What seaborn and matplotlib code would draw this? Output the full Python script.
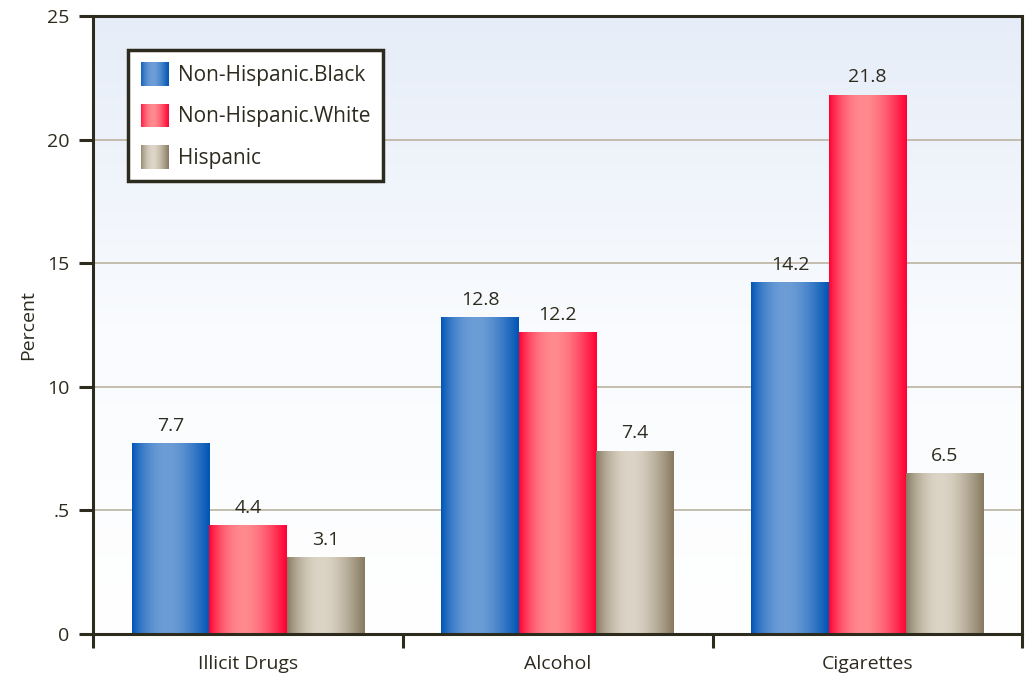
import numpy as np
import pandas as pd
import matplotlib
matplotlib.use("Agg")
import matplotlib.pyplot as plt
import seaborn as sns
from matplotlib.colors import LinearSegmentedColormap
from matplotlib.legend_handler import HandlerBase
from matplotlib.patches import Patch, Rectangle

# data
categories = ["Illicit Drugs", "Alcohol", "Cigarettes"]
groups = ["Non-Hispanic.Black", "Non-Hispanic.White", "Hispanic"]
black = [7.7, 12.8, 14.2]
white = [4.4, 12.2, 21.8]
hispanic = [3.1, 7.4, 6.5]
yticks = [0, 5, 10, 15, 20, 25]
ytick_labels = ["0", ".5", "10", "15", "20", "25"]

df = pd.DataFrame({
    "category": categories * 3,
    "group": [g for g in groups for _ in categories],
    "value": black + white + hispanic,
})

# edge / highlight colours for the cylinder-like shading
shades = {
    "Non-Hispanic.Black": ("#0055b5", "#6d9dd6"),
    "Non-Hispanic.White": ("#ff0033", "#ff8a8e"),
    "Hispanic": ("#877a60", "#dcd4c6"),
}


def grad_cmap(edge, light):
    t = np.linspace(0, 1, 64)
    p = np.sin(np.pi * t ** 0.85)
    e = np.array(matplotlib.colors.to_rgb(edge))
    l = np.array(matplotlib.colors.to_rgb(light))
    cols = [tuple(e + (l - e) * v) for v in p]
    return LinearSegmentedColormap.from_list("g", cols)


cmaps = {g: grad_cmap(*shades[g]) for g in groups}


class GradHandler(HandlerBase):
    def __init__(self, cmap):
        super().__init__()
        self.cmap = cmap

    def create_artists(self, legend, orig_handle, xdescent, ydescent,
                       width, height, fontsize, trans):
        n = 30
        out = []
        for i in range(n):
            r = Rectangle((-xdescent + i * width / n, -ydescent), width / n * 1.1, height,
                          facecolor=self.cmap((i + 0.5) / n), edgecolor="none",
                          transform=trans)
            out.append(r)
        return out


plt.rcParams["font.family"] = ["Open Sans", "DejaVu Sans"]
dark = "#2d2a1e"
fs = 14

fig = plt.figure(figsize=(10.3, 6.78), dpi=100)
ax = fig.add_axes([0.0903, 0.0649, 0.9022, 0.9115])

sns.barplot(data=df, x="category", y="value", hue="group", order=categories,
            hue_order=groups, width=0.75, ax=ax, zorder=2,
            palette=[shades[g][0] for g in groups], saturation=1)
ax.get_legend().remove()

# background gradient
bg = LinearSegmentedColormap.from_list("bg", ["#ffffff", "#f9fbfe", "#e6edf8"])
ax.imshow(np.linspace(0, 1, 256).reshape(-1, 1), extent=[-0.5, 2.5, 0, 25],
          origin="lower", aspect="auto", cmap=bg, zorder=0)

# gradient fills on bars + value labels
for g, cont in zip(groups, ax.containers):
    for bar in cont:
        x, w, h = bar.get_x(), bar.get_width(), bar.get_height()
        ax.imshow(np.linspace(0, 1, 128).reshape(1, -1), extent=[x, x + w, 0, h],
                  aspect="auto", cmap=cmaps[g], zorder=2.1)
        ax.text(x + w / 2, h + 0.35, f"{h:.1f}", ha="center", va="bottom",
                fontsize=fs, color=dark)

ax.set_xlim(-0.5, 2.5)
ax.set_ylim(0, 25)
ax.set_axisbelow(True)
ax.yaxis.grid(True, color="#b5ad98", linewidth=1.1)
ax.xaxis.grid(False)

ax.set_yticks(yticks)
ax.set_yticklabels(ytick_labels)
ax.tick_params(axis="y", direction="out", length=10, width=2.2, color=dark,
               pad=7, labelsize=fs, labelcolor=dark)

ax.set_xticks([-0.5, 0.5, 1.5, 2.5])
ax.set_xticklabels([])
ax.set_xticks([0, 1, 2], minor=True)
ax.set_xticklabels(categories, minor=True)
ax.tick_params(axis="x", which="major", direction="out", length=10, width=2.2, color=dark)
ax.tick_params(axis="x", which="minor", length=0, pad=15, labelsize=fs, labelcolor=dark)

for s in ax.spines.values():
    s.set_color(dark)
    s.set_linewidth(2.2)

ax.set_xlabel("")
ax.set_ylabel("Percent", fontsize=fs, color=dark, labelpad=7)

handles = [Patch(label=g) for g in groups]
leg = ax.legend(handles=handles, labels=groups, loc="upper left",
                bbox_to_anchor=(0.0377, 0.945), borderaxespad=0, fontsize=15,
                frameon=True, fancybox=False, framealpha=1, edgecolor=dark,
                handlelength=1.35, handleheight=1.35, labelspacing=0.85,
                handletextpad=0.45, borderpad=0.6,
                handler_map={h: GradHandler(cmaps[g]) for h, g in zip(handles, groups)})
leg.get_frame().set_linewidth(2.5)
for t in leg.get_texts():
    t.set_color(dark)

fig.savefig("out.png", dpi=100)
